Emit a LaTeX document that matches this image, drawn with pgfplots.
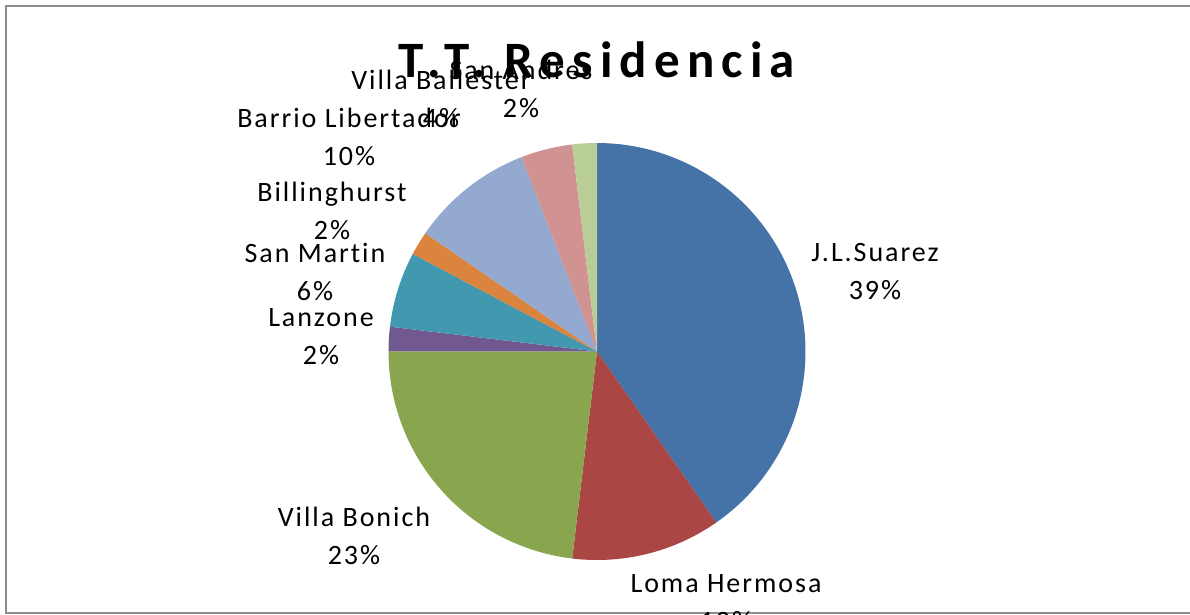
\documentclass[border=0pt]{standalone}
\usepackage{pgfplots}
\pgfplotsset{compat=1.18}
\usepackage{fontspec}
\setmainfont{Carlito}
\newfontfamily\labfont[LetterSpace=7, Ligatures=NoCommon]{Carlito}
\newfontfamily\titfont[LetterSpace=14, Ligatures=NoCommon]{Carlito}
\definecolor{c1}{HTML}{4572A7}
\definecolor{c2}{HTML}{AA4643}
\definecolor{c3}{HTML}{89A54E}
\definecolor{c4}{HTML}{71588F}
\definecolor{c5}{HTML}{4198AF}
\definecolor{c6}{HTML}{DB843D}
\definecolor{c7}{HTML}{93A9CF}
\definecolor{c8}{HTML}{D19392}
\definecolor{c9}{HTML}{B9CD96}
\definecolor{frame}{HTML}{8C8C8C}
% slice shares (percent of the full circle)
\def\cum{90}
\newcommand\slice[2]{%
  \pgfmathsetmacro\e{\cum}%
  \pgfmathsetmacro\s{\cum-3.6*#1}%
  \xdef\cum{\s}%
  \edef\tmp{\noexpand\addplot[fill=#2, draw=none, domain=\s:\e, samples=90] ({597+208.5*cos(x)},{263.5+208.5*sin(x)}) -- (axis cs:597,263.5) -- cycle;}%
  \tmp
}
\newcommand\lab[4]{% x, baseline (image px), name, percent
  \node[anchor=base, inner sep=0pt, font=\labfont\fontsize{28}{30}\selectfont] at (axis cs:#1,{615-#2}) {#3};
  \node[anchor=base, inner sep=0pt, font=\labfont\fontsize{28}{30}\selectfont] at (axis cs:#1,{615-#2-38}) {#4};
}
\begin{document}
\begin{tikzpicture}
\begin{axis}[width=1190pt, height=615pt, scale only axis,
  xmin=0, xmax=1190, ymin=0, ymax=615, axis lines=none, clip=false]
\slice{40.3}{c1}
\slice{11.6}{c2}
\slice{23.1}{c3}
\slice{1.9}{c4}
\slice{5.85}{c5}
\slice{1.85}{c6}
\slice{9.5}{c7}
\slice{4.0}{c8}
\slice{1.9}{c9}
\draw[frame, line width=2pt] (axis cs:1200,2.5) -- (axis cs:6,2.5) -- (axis cs:6,609) -- (axis cs:1200,609);
\node[anchor=base, inner sep=0pt, font=\titfont\bfseries\fontsize{51}{55}\selectfont] at (axis cs:597,{615-78}) {T.T. Residencia};
\lab{875}{262}{J.L.Suarez}{39\%}
\lab{726}{592}{Loma Hermosa}{12\%}
\lab{354}{527}{Villa Bonich}{23\%}
\lab{321}{327}{Lanzone}{2\%}
\lab{315}{263}{San Martin}{6\%}
\lab{332}{202}{Billinghurst}{2\%}
\lab{349}{128}{Barrio Libertador}{10\%}
\lab{441}{90}{Villa Ballester}{4\%}
\lab{521}{80}{San Andres}{2\%}
\end{axis}
\pgfresetboundingbox
\path (current axis.south west) rectangle (current axis.north east);
\end{tikzpicture}
\end{document}
